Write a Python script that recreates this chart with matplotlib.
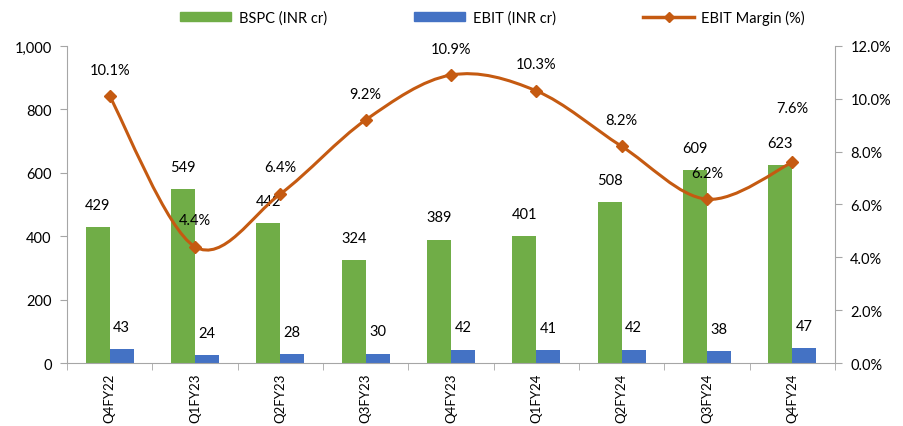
import numpy as np
import matplotlib.pyplot as plt
from matplotlib.path import Path
from matplotlib.patches import PathPatch
from matplotlib.lines import Line2D
from matplotlib.ticker import FuncFormatter, MultipleLocator

quarters = ["Q4FY22", "Q1FY23", "Q2FY23", "Q3FY23", "Q4FY23",
            "Q1FY24", "Q2FY24", "Q3FY24", "Q4FY24"]
bspc = [429, 549, 442, 324, 389, 401, 508, 609, 623]
ebit = [43, 24, 28, 30, 42, 41, 42, 38, 47]
ebit_margin = [10.1, 4.4, 6.4, 9.2, 10.9, 10.3, 8.2, 6.2, 7.6]

GREEN = "#70AD47"
BLUE = "#4472C4"
ORANGE = "#C55A11"
GREY = "#A6A6A6"

plt.rcParams["font.family"] = ["Lato", "DejaVu Sans"]
plt.rcParams["font.size"] = 10.5

fig = plt.figure(figsize=(9.04, 4.27), dpi=100)
ax = fig.add_axes([0.0741, 0.1475, 0.8496, 0.7425])
ax2 = ax.twinx()

x = np.arange(len(quarters))
w = 0.28
ax.bar(x - w / 2, bspc, w, color=GREEN, label="BSPC (INR cr)")
ax.bar(x + w / 2, ebit, w, color=BLUE, label="EBIT (INR cr)")

for xi, v in zip(x, bspc):
    ax.annotate(f"{v}", (xi - w / 2, v), xytext=(0, 11), textcoords="offset points",
                ha="center", va="bottom", fontsize=10.5)
for xi, v in zip(x, ebit):
    ax.annotate(f"{v}", (xi + w / 2, v), xytext=(0, 11), textcoords="offset points",
                ha="center", va="bottom", fontsize=10.5)

# smoothed margin line: Catmull-Rom style cubic Bezier through the points
pts = np.column_stack([x, ebit_margin]).astype(float)
ext = np.vstack([pts[0], pts, pts[-1]])
verts = [tuple(pts[0])]
codes = [Path.MOVETO]
for i in range(len(pts) - 1):
    p0, p1, p2, p3 = ext[i], ext[i + 1], ext[i + 2], ext[i + 3]
    c1 = p1 + (p2 - p0) / 6
    c2 = p2 - (p3 - p1) / 6
    verts += [tuple(c1), tuple(c2), tuple(p2)]
    codes += [Path.CURVE4] * 3
ax2.add_patch(PathPatch(Path(verts, codes), fill=False, edgecolor=ORANGE,
                        lw=2.2, capstyle="round", joinstyle="round", zorder=3))
ax2.plot(x, ebit_margin, ls="none", marker="D", ms=6.5, color=ORANGE, zorder=4)

label_offsets = [14, 14, 14, 14, 14, 14, 14, 14, 34]
for xi, v, off in zip(x, ebit_margin, label_offsets):
    ax2.annotate(f"{v:.1f}%", (xi, v), xytext=(0, off), textcoords="offset points",
                 ha="center", va="bottom", fontsize=10.5)

ax.set_xlim(-0.5, len(quarters) - 0.5)
ax.set_ylim(0, 1000)
ax.yaxis.set_major_locator(MultipleLocator(200))
ax.yaxis.set_major_formatter(FuncFormatter(lambda v, p: f"{int(v):,}"))
ax2.set_ylim(0, 12)
ax2.yaxis.set_major_locator(MultipleLocator(2))
ax2.yaxis.set_major_formatter(FuncFormatter(lambda v, p: f"{v:.1f}%"))

ax.set_xticks(x)
ax.set_xticklabels(quarters, rotation=90, fontsize=9.5)
ax.set_xticks(np.arange(len(quarters) + 1) - 0.5, minor=True)
ax.tick_params(axis="x", which="major", length=0, pad=7)
ax.tick_params(axis="x", which="minor", length=5, color=GREY)
ax.tick_params(axis="y", length=5, color=GREY, pad=6)
ax2.tick_params(axis="y", length=5, color=GREY, pad=6)

for a in (ax, ax2):
    a.spines["top"].set_visible(False)
    for s in ("left", "right", "bottom"):
        a.spines[s].set_color(GREY)
ax.spines["right"].set_visible(False)
ax2.spines["left"].set_visible(False)
ax2.spines["bottom"].set_visible(False)

handles = [
    plt.Rectangle((0, 0), 1, 1, color=GREEN),
    plt.Rectangle((0, 0), 1, 1, color=BLUE),
    Line2D([], [], color=ORANGE, lw=2.5, marker="D", ms=5),
]
fig.legend(handles, ["BSPC (INR cr)", "EBIT (INR cr)", "EBIT Margin (%)"],
           loc="center", bbox_to_anchor=(0.545, 0.957), ncol=3, frameon=False,
           handlelength=3.5, handleheight=0.6, columnspacing=6, handletextpad=0.5,
           fontsize=10.5)

fig.savefig("out.png", dpi=100)
